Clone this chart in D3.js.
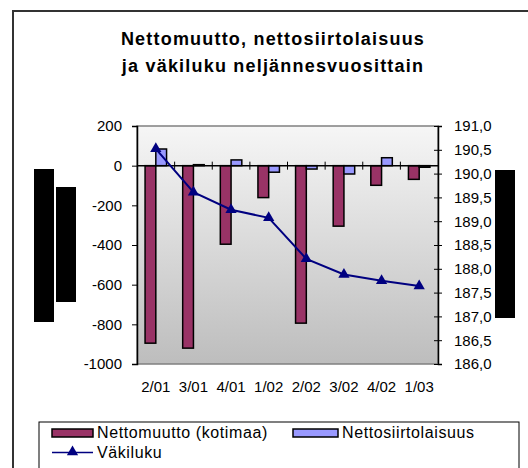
<!DOCTYPE html>
<html>
<head>
<meta charset="utf-8">
<script src="https://cdn.jsdelivr.net/npm/d3@7"></script>
<style>
  body { margin: 0; background: #fff; }
  svg { display: block; font-family: "Liberation Sans", Arial, sans-serif; }
</style>
</head>
<body>
<svg id="chart" width="528" height="468"></svg>
<script>
var quarters = ["2/01", "3/01", "4/01", "1/02", "2/02", "3/02", "4/02", "1/03"];
var nettomuutto = [-895, -920, -396, -161, -794, -305, -99, -69];
var siirtolaisuus = [84, 5, 29, -33, -17, -42, 40, -8];
var vakiluku = [190.52, 189.61, 189.24, 189.07, 188.21, 187.88, 187.75, 187.64];
var leftTicks = [200, 0, -200, -400, -600, -800, -1000];
var rightTicks = [191, 190.5, 190, 189.5, 189, 188.5, 188, 187.5, 187, 186.5, 186];

var seriesNames = ["Nettomuutto (kotimaa)", "Nettosiirtolaisuus"];
var barColors = ["#993366", "#9999ff"];
var lineColor = "#000080";

var plot = {left: 137, right: 438, top: 126, bottom: 364};

var fi = d3.formatLocale({decimal: ",", thousands: " ", grouping: [3], currency: ["", "€"], minus: "-"});

var svg = d3.select("#chart");

// outer frame, runs off the right and bottom edge
svg.append("rect")
  .attr("x", 13).attr("y", 11).attr("width", 540).attr("height", 480)
  .attr("fill", "none").attr("stroke", "#333").attr("stroke-width", 2);

svg.append("text")
  .attr("x", 273).attr("y", 45)
  .attr("text-anchor", "middle")
  .style("font-weight", "bold").style("font-size", "18px").style("letter-spacing", "1.2px")
  .text("Nettomuutto, nettosiirtolaisuus");
svg.append("text")
  .attr("x", 273).attr("y", 72)
  .attr("text-anchor", "middle")
  .style("font-weight", "bold").style("font-size", "18px").style("letter-spacing", "1.2px")
  .text("ja väkiluku neljännesvuosittain");

var x = d3.scaleBand().domain(quarters).range([plot.left, plot.right]);
var x1 = d3.scaleBand().domain([0, 1]).range([0, x.bandwidth()]).paddingInner(0).paddingOuter(0.75);
var yL = d3.scaleLinear().domain([-1000, 200]).range([plot.bottom, plot.top]);
var yR = d3.scaleLinear().domain([186, 191]).range([plot.bottom, plot.top]);

// plot area background
var grad = svg.append("defs").append("linearGradient")
  .attr("id", "bg").attr("x1", 0).attr("y1", 0).attr("x2", 0).attr("y2", 1);
grad.append("stop").attr("offset", 0).attr("stop-color", "#f6f6f6");
grad.append("stop").attr("offset", 1).attr("stop-color", "#bdbdbd");

svg.append("rect")
  .attr("x", plot.left).attr("y", plot.top)
  .attr("width", plot.right - plot.left).attr("height", plot.bottom - plot.top)
  .attr("fill", "url(#bg)").attr("stroke", "#808080").attr("stroke-width", 1.5);

// bars
var series = [nettomuutto, siirtolaisuus];
series.forEach(function(vals, s) {
  svg.append("g").selectAll("rect")
    .data(vals)
    .enter().append("rect")
    .attr("x", function(d, i) { return x(quarters[i]) + x1(s); })
    .attr("width", x1.bandwidth())
    .attr("y", function(d) { return yL(Math.max(0, d)); })
    .attr("height", function(d) { return Math.abs(yL(d) - yL(0)); })
    .attr("fill", barColors[s])
    .attr("stroke", "#000").attr("stroke-width", 1.5);
});

// category axis at zero
svg.append("line")
  .attr("x1", plot.left).attr("x2", plot.right)
  .attr("y1", yL(0)).attr("y2", yL(0))
  .attr("stroke", "#000").attr("stroke-width", 1.5);
svg.append("g").selectAll("line")
  .data(quarters.slice(1))
  .enter().append("line")
  .attr("x1", function(d) { return x(d); }).attr("x2", function(d) { return x(d); })
  .attr("y1", yL(0) - 4).attr("y2", yL(0) + 4)
  .attr("stroke", "#000");

// category labels
var xAxis = svg.append("g")
  .attr("transform", "translate(0," + plot.bottom + ")")
  .call(d3.axisBottom(x).tickSize(0).tickPadding(17));
xAxis.select(".domain").remove();
xAxis.selectAll("text").style("font-size", "15px").attr("fill", "#000");

// left axis
var la = svg.append("g")
  .attr("transform", "translate(" + plot.left + ",0)")
  .call(d3.axisLeft(yL).tickValues(leftTicks).tickSize(5).tickPadding(10).tickFormat(fi.format("d")));
la.select(".domain").attr("stroke-width", 1.5);
la.selectAll("text").style("font-size", "15px").attr("fill", "#000");

// right axis
var ra = svg.append("g")
  .attr("transform", "translate(" + plot.right + ",0)")
  .call(d3.axisRight(yR).tickValues(rightTicks).tickSize(4).tickPadding(12).tickFormat(fi.format(".1f")));
ra.select(".domain").attr("stroke-width", 1.5);
ra.selectAll(".tick line").attr("x1", -4);
ra.selectAll("text").style("font-size", "15px").attr("fill", "#000");

// population line
var line = d3.line()
  .x(function(d, i) { return x(quarters[i]) + x.bandwidth() / 2; })
  .y(function(d) { return yR(d); });
svg.append("path")
  .datum(vakiluku)
  .attr("d", line)
  .attr("fill", "none").attr("stroke", lineColor).attr("stroke-width", 2);

var tri = d3.symbol().type(d3.symbolTriangle).size(55);
svg.append("g").selectAll("path")
  .data(vakiluku)
  .enter().append("path")
  .attr("d", tri)
  .attr("transform", function(d, i) {
    return "translate(" + (x(quarters[i]) + x.bandwidth() / 2) + "," + yR(d) + ")";
  })
  .attr("fill", lineColor);

// axis titles (blacked out in the source)
svg.append("rect").attr("x", 34).attr("y", 169).attr("width", 20).attr("height", 153).attr("fill", "#000");
svg.append("rect").attr("x", 56).attr("y", 187).attr("width", 20).attr("height", 115).attr("fill", "#000");
svg.append("rect").attr("x", 495).attr("y", 170).attr("width", 20).attr("height", 148).attr("fill", "#000");

// legend
svg.append("rect")
  .attr("x", 39).attr("y", 422).attr("width", 480).attr("height", 60)
  .attr("fill", "#fff").attr("stroke", "#000").attr("stroke-width", 1);

var legX = [52, 293];
var legW = [41, 45];
seriesNames.forEach(function(name, s) {
  svg.append("rect")
    .attr("x", legX[s]).attr("y", 429).attr("width", legW[s]).attr("height", 8)
    .attr("fill", barColors[s]).attr("stroke", "#000").attr("stroke-width", 1.5);
  svg.append("text")
    .attr("x", legX[s] + legW[s] + 4).attr("y", 438)
    .style("font-size", "16px").style("letter-spacing", "0.6px")
    .text(name);
});
svg.append("line")
  .attr("x1", 52).attr("x2", 93).attr("y1", 452.5).attr("y2", 452.5)
  .attr("stroke", lineColor).attr("stroke-width", 1.5);
svg.append("path")
  .attr("d", tri)
  .attr("transform", "translate(72.5,452)")
  .attr("fill", lineColor);
svg.append("text")
  .attr("x", 97).attr("y", 458)
  .style("font-size", "16px").style("letter-spacing", "0.6px")
  .text("Väkiluku");
</script>
</body>
</html>
